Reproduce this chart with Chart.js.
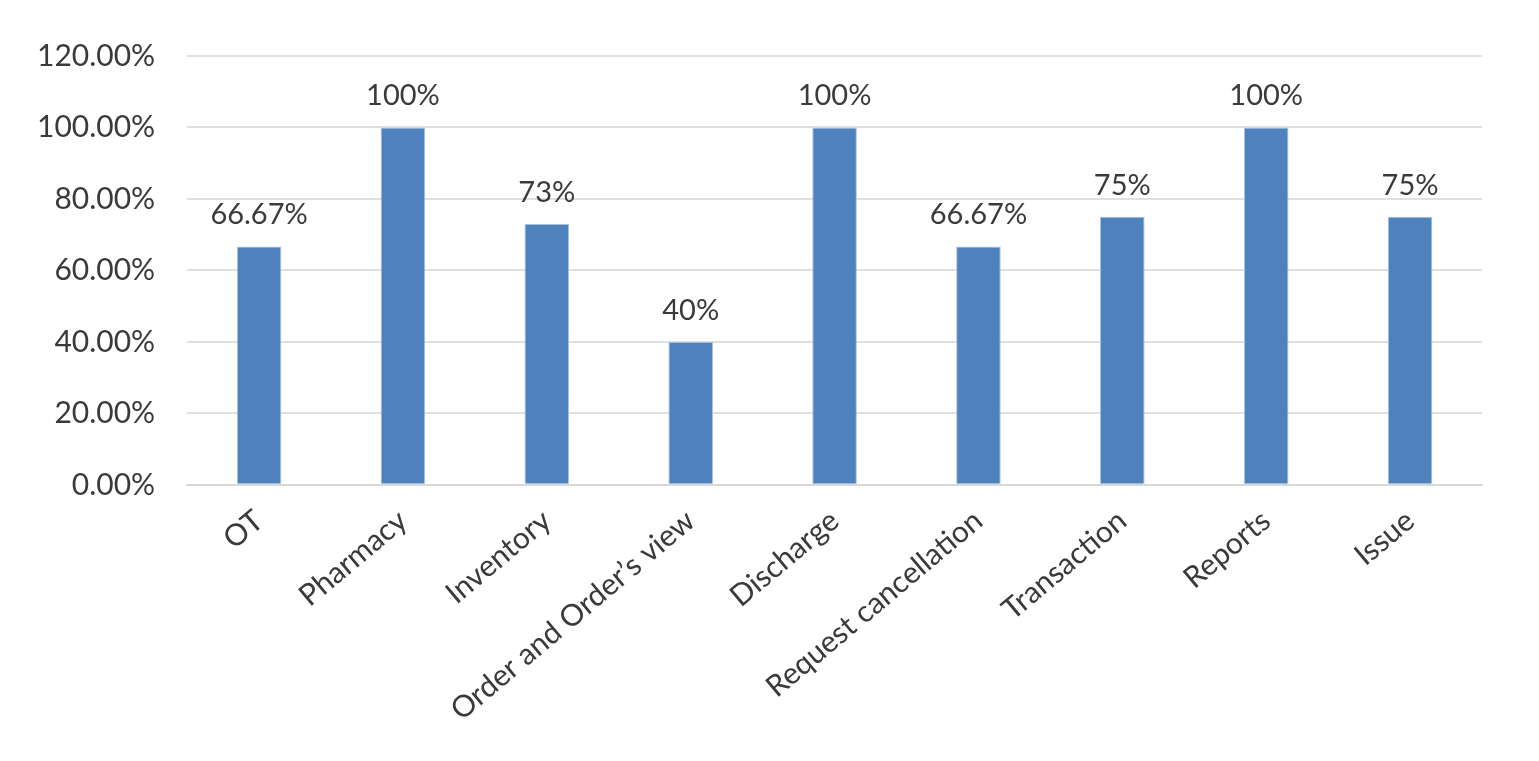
<!DOCTYPE html>
<html>
<head>
<meta charset="utf-8">
<script src="https://cdn.jsdelivr.net/npm/chart.js@4.4.1/dist/chart.umd.min.js"></script>
<style>
  html, body { margin: 0; padding: 0; background: #ffffff; }
  #wrap { width: 1539px; height: 761px; }
</style>
</head>
<body>
<div id="wrap"><canvas id="chart"></canvas></div>
<script>
// chart data
var categories = ["OT", "Pharmacy", "Inventory", "Order and Order\u2019s view", "Discharge", "Request cancellation", "Transaction", "Reports", "Issue"];
var values = [66.67, 100, 73, 40, 100, 66.67, 75, 100, 75];
var valueLabels = ["66.67%", "100%", "73%", "40%", "100%", "66.67%", "75%", "100%", "75%"];
var yTicks = [0, 20, 40, 60, 80, 100, 120];

// draws the value text above each bar
var barLabels = {
  id: "barLabels",
  afterDatasetsDraw: function (chart) {
    var ctx = chart.ctx;
    var meta = chart.getDatasetMeta(0);
    ctx.save();
    ctx.font = "29px Lato";
    ctx.fillStyle = "#3a3a3a";
    ctx.textAlign = "center";
    ctx.textBaseline = "bottom";
    meta.data.forEach(function (bar, i) {
      ctx.fillText(valueLabels[i], bar.x, bar.y - 17);
    });
    ctx.restore();
  }
};

var ctx = document.getElementById("chart").getContext("2d");
new Chart(ctx, {
  type: "bar",
  data: {
    labels: categories,
    datasets: [
      {
        data: values,
        backgroundColor: "#4f81bd",
        borderColor: "#a9c1e0",
        borderWidth: 1,
        barPercentage: 0.62,
        categoryPercentage: 0.5,
      },
    ],
  },
  options: {
    responsive: true,
    maintainAspectRatio: false,
    animation: false,
    layout: { padding: { top: 56, right: 57, left: 5, bottom: 23 } },
    plugins: {
      legend: { display: false },
      tooltip: { enabled: false },
    },
    scales: {
      x: {
        grid: { display: false },
        border: { color: "#d9d9d9", width: 2 },
        ticks: {
          color: "#3a3a3a",
          font: { family: "Lato", size: 30 },
          minRotation: 40,
          maxRotation: 40,
          padding: 10,
        },
      },
      y: {
        min: 0,
        max: 120,
        afterBuildTicks: function (axis) {
          axis.ticks = yTicks.map(function (v) { return { value: v }; });
        },
        grid: { color: "#e0e0e0", lineWidth: 2, drawTicks: false },
        border: { display: false },
        ticks: {
          color: "#3a3a3a",
          font: { family: "Lato", size: 30 },
          padding: 32,
          callback: function (v) { return v.toFixed(2) + "%"; },
        },
      },
    },
  },
  plugins: [barLabels],
});
</script>
</body>
</html>
